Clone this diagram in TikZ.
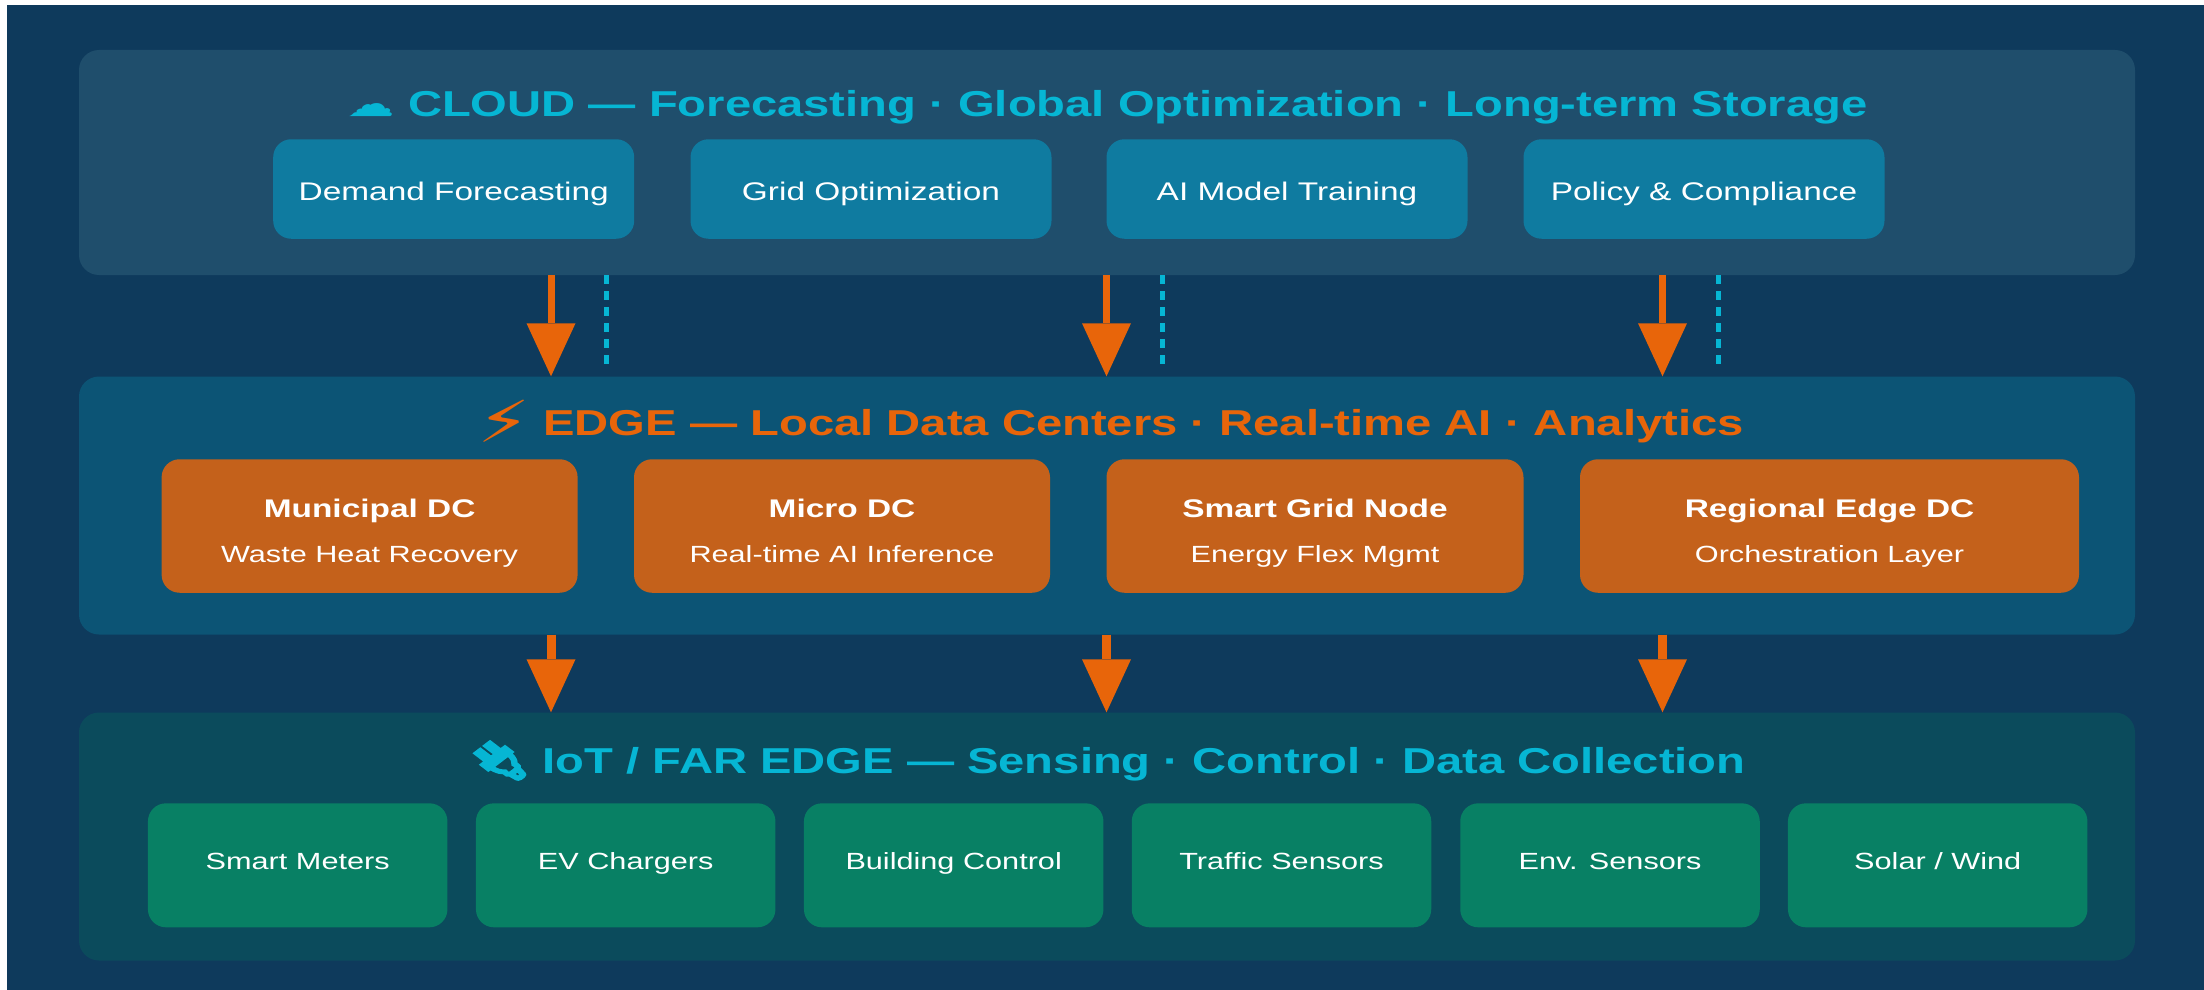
\documentclass[tikz,border=0pt]{standalone}
\usepackage{fontspec}
\setmainfont{Liberation Sans}
\newfontfamily\emojifont[FakeBold=10]{Noto Emoji}
\newfontfamily\symfont{DejaVu Sans}
\usetikzlibrary{arrows.meta}
\definecolor{bgc}{HTML}{0E3A5C}
\definecolor{cloudp}{HTML}{1F4E6C}
\definecolor{cloudb}{HTML}{0F7BA0}
\definecolor{edgep}{HTML}{0C5475}
\definecolor{edgeb}{HTML}{C4611B}
\definecolor{iotp}{HTML}{0B4B5C}
\definecolor{iotb}{HTML}{088064}
\definecolor{orng}{HTML}{E8650A}
\definecolor{cyn}{HTML}{06B6D4}
\tikzset{
  x=1pt,y=-1pt,
  panel/.style 2 args={rounded corners=20pt,inner sep=0pt,minimum width=#1pt,minimum height=#2pt,draw=none},
  card/.style 2 args={rounded corners=18pt,inner sep=0pt,minimum width=#1pt,minimum height=#2pt,draw=none},
  title/.style={anchor=base,inner sep=0pt,xscale=1.31,font=\fontsize{36}{40}\selectfont\bfseries},
  lbl/.style={anchor=base,inner sep=0pt,text=white,xscale=1.31},
  flow/.style={draw=orng,line width=#1pt,-{Triangle[line width=0pt,width=49pt,length=53pt,fill=orng]}},
  feedback/.style={draw=cyn,line width=5pt,dash pattern=on 8.5pt off 7.5pt},
}
\begin{document}
\begin{tikzpicture}
\useasboundingbox (0,0) rectangle (2204,990);
\fill[white] (0,0) rectangle (2204,990);
\fill[bgc] (7,5) rectangle (2204,990);
% panels
\node[panel={2056}{225},fill=cloudp] (cloud) at (1107,162.5) {};
\node[panel={2056}{258},fill=edgep] (edge) at (1107,505.5) {};
\node[panel={2056}{248},fill=iotp] (iot) at (1107,836.5) {};
% titles
\node[title,text=cyn] (cloudt) at (1107.6,117) {{\symfont ☁} CLOUD — Forecasting · Global Optimization · Long-term Storage};
\node[title,text=orng] (edget) at (1110.4,435) {\raisebox{-7pt}{\symfont\fontsize{58}{40}\selectfont ⚡} EDGE — Local Data Centers · Real-time AI · Analytics};
\node[title,text=cyn] (iott) at (1107.7,773) {{\emojifont 🔌} IoT / FAR EDGE — Sensing · Control · Data Collection};
% cloud cards
\node[card={361}{99.5},fill=cloudb] (c1) at (453.7,189) {};
\node[card={361}{99.5},fill=cloudb] (c2) at (871,189) {};
\node[card={361}{99.5},fill=cloudb] (c3) at (1287,189) {};
\node[card={361}{99.5},fill=cloudb] (c4) at (1704,189) {};
\node[lbl,font=\fontsize{25.5}{30}\selectfont] (c1t) at (453.7,200) {Demand Forecasting};
\node[lbl,font=\fontsize{25.5}{30}\selectfont] (c2t) at (871,200) {Grid Optimization};
\node[lbl,font=\fontsize{25.5}{30}\selectfont] (c3t) at (1287,200) {AI Model Training};
\node[lbl,font=\fontsize{25.5}{30}\selectfont] (c4t) at (1704,200) {Policy \& Compliance};
% edge cards
\node[card={416}{133.5},fill=edgeb] (e1) at (369.6,526) {};
\node[card={416}{133.5},fill=edgeb] (e2) at (842,526) {};
\node[card={417}{133.5},fill=edgeb] (e3) at (1315,526) {};
\node[card={499}{133.5},fill=edgeb] (e4) at (1829.5,526) {};
\foreach \n/\x/\a/\b in {e1/369.6/Municipal DC/Waste Heat Recovery,e2/842/Micro DC/Real-time AI Inference,e3/1315/Smart Grid Node/Energy Flex Mgmt,e4/1829.5/Regional Edge DC/Orchestration Layer}{
  \node[lbl,font=\fontsize{25.5}{30}\selectfont\bfseries] (\n a) at (\x,517) {\a};
  \node[lbl,font=\fontsize{23.4}{28}\selectfont] (\n b) at (\x,562) {\b};
}
% iot cards
\foreach \n/\x/\a in {i1/297.7/Smart Meters,i2/625.7/EV Chargers,i3/953.7/Building Control,i4/1281.5/Traffic Sensors,i5/1610/Env. Sensors,i6/1937.7/{Solar / Wind}}{
  \node[card={299.5}{124},fill=iotb] (\n) at (\x,865.3) {};
  \node[lbl,font=\fontsize{23.4}{28}\selectfont] (\n t) at (\x,869.5) {\a};
}
% connectors
\foreach \k/\x in {1/551,2/1106.5,3/1662.5}{
  \coordinate (ax\k) at (\x,0);
  \draw[flow=7] (ax\k |- cloud.south) -- (ax\k |- edge.north);
  \draw[flow=9] (ax\k |- edge.south) -- (ax\k |- iot.north);
}
\foreach \k/\x in {1/606,2/1162,3/1718}{
  \coordinate (dx\k) at (\x,0);
  \coordinate (de\k) at (\x,366);
  \draw[feedback] (dx\k |- cloud.south) -- (de\k);
}
\end{tikzpicture}
\end{document}
